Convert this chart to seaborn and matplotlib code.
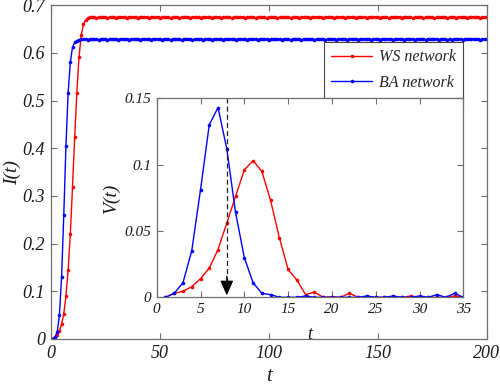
import numpy as np
import matplotlib
matplotlib.use('Agg')
import matplotlib.pyplot as plt
import matplotlib.ticker as mticker
import seaborn as sns

# I(t), t = 0..200
ws_rise = [0, 0.001, 0.004, 0.008, 0.017, 0.031, 0.053, 0.09, 0.145, 0.22,
           0.318, 0.423, 0.517, 0.592, 0.637, 0.66, 0.669, 0.673]
ws_plateau = [
    0.675, 0.676, 0.675, 0.674, 0.675, 0.676, 0.675, 0.675, 0.674, 0.675,
    0.676, 0.675, 0.674, 0.675, 0.675, 0.676, 0.675, 0.674, 0.675, 0.676,
    0.675, 0.675, 0.674, 0.675, 0.676, 0.675, 0.675, 0.674, 0.675, 0.675,
    0.676, 0.675, 0.674, 0.675, 0.675, 0.676, 0.675, 0.674, 0.675, 0.676,
    0.675, 0.674, 0.675, 0.675, 0.676, 0.675, 0.674, 0.675, 0.676, 0.675,
    0.675, 0.674, 0.675, 0.676, 0.675, 0.675, 0.674, 0.675, 0.676, 0.675,
    0.674, 0.675, 0.675, 0.676, 0.675, 0.674, 0.675, 0.675, 0.676, 0.675,
    0.675, 0.674, 0.675, 0.676, 0.675, 0.675, 0.674, 0.675, 0.675, 0.676,
    0.675, 0.674, 0.675, 0.676, 0.675, 0.675, 0.674, 0.675, 0.675, 0.676,
    0.675, 0.675, 0.674, 0.675, 0.676, 0.675, 0.674, 0.675, 0.675, 0.676,
    0.675, 0.674, 0.675, 0.675, 0.676, 0.675, 0.675, 0.674, 0.675, 0.676,
    0.675, 0.675, 0.674, 0.675, 0.675, 0.676, 0.675, 0.674, 0.675, 0.675,
    0.676, 0.675, 0.674, 0.675, 0.676, 0.675, 0.675, 0.674, 0.675, 0.675,
    0.676, 0.675, 0.675, 0.674, 0.675, 0.676, 0.675, 0.674, 0.675, 0.675,
    0.675, 0.676, 0.675, 0.674, 0.675, 0.675, 0.676, 0.675, 0.674, 0.675,
    0.676, 0.675, 0.675, 0.674, 0.675, 0.675, 0.676, 0.675, 0.674, 0.675,
    0.675, 0.676, 0.675, 0.675, 0.674, 0.675, 0.676, 0.675, 0.674, 0.675,
    0.675, 0.676, 0.675, 0.674, 0.675, 0.675, 0.676, 0.675, 0.675, 0.674,
    0.675, 0.676, 0.675]
ba_rise = [0, 0.001, 0.004, 0.015, 0.05, 0.13, 0.26, 0.405, 0.517, 0.58,
           0.612, 0.622, 0.626, 0.628]
ba_plateau = [
    0.629, 0.630, 0.629, 0.628, 0.629, 0.630, 0.629, 0.629, 0.628, 0.629,
    0.630, 0.629, 0.628, 0.629, 0.629, 0.630, 0.629, 0.628, 0.629, 0.630,
    0.629, 0.629, 0.628, 0.629, 0.630, 0.629, 0.629, 0.628, 0.629, 0.629,
    0.630, 0.629, 0.628, 0.629, 0.629, 0.630, 0.629, 0.628, 0.629, 0.630,
    0.629, 0.628, 0.629, 0.629, 0.630, 0.629, 0.628, 0.629, 0.630, 0.629,
    0.629, 0.628, 0.629, 0.630, 0.629, 0.629, 0.628, 0.629, 0.630, 0.629,
    0.628, 0.629, 0.629, 0.630, 0.629, 0.628, 0.629, 0.629, 0.630, 0.629,
    0.629, 0.628, 0.629, 0.630, 0.629, 0.629, 0.628, 0.629, 0.629, 0.630,
    0.629, 0.628, 0.629, 0.630, 0.629, 0.629, 0.628, 0.629, 0.629, 0.630,
    0.629, 0.629, 0.628, 0.629, 0.630, 0.629, 0.628, 0.629, 0.629, 0.630,
    0.629, 0.628, 0.629, 0.629, 0.630, 0.629, 0.629, 0.628, 0.629, 0.630,
    0.629, 0.629, 0.628, 0.629, 0.629, 0.630, 0.629, 0.628, 0.629, 0.629,
    0.630, 0.629, 0.628, 0.629, 0.630, 0.629, 0.629, 0.628, 0.629, 0.629,
    0.630, 0.629, 0.629, 0.628, 0.629, 0.630, 0.629, 0.628, 0.629, 0.629,
    0.629, 0.630, 0.629, 0.628, 0.629, 0.629, 0.630, 0.629, 0.628, 0.629,
    0.630, 0.629, 0.629, 0.628, 0.629, 0.629, 0.630, 0.629, 0.628, 0.629,
    0.629, 0.630, 0.629, 0.629, 0.628, 0.629, 0.630, 0.629, 0.628, 0.629,
    0.628, 0.629, 0.630, 0.629, 0.629, 0.628, 0.629, 0.630, 0.629, 0.629,
    0.629, 0.630, 0.629, 0.628, 0.629, 0.629, 0.630]
ws_I = ws_rise + ws_plateau
ba_I = ba_rise + ba_plateau

# V(t), t = 1..35 (inset)
t_inset = list(range(1, 36))
ws_V = [0, 0.003, 0.0045, 0.008, 0.014, 0.022, 0.036, 0.056, 0.076, 0.096,
        0.103, 0.095, 0.073, 0.045, 0.021, 0.013, 0.002, 0.004, 0, 0.0005,
        0, 0.003, 0, 0, 0, 0, 0, 0, 0.001, 0,
        0, 0, 0, 0.001, 0]
ba_V = [0, 0.003, 0.011, 0.035, 0.081, 0.13, 0.143, 0.112, 0.064, 0.030,
        0.011, 0.003, 0.002, 0, 0, 0, 0.001, 0, 0, 0,
        0, 0, 0, 0.001, 0, 0, 0.001, 0, 0, 0.001,
        0, 0.002, 0, 0.003, 0]
arrow_t = 8

sns.set_style('ticks')
plt.rcParams['font.family'] = 'serif'
plt.rcParams['font.serif'] = ['Liberation Serif', 'DejaVu Serif']
plt.rcParams['font.style'] = 'italic'

spine_col = '#6e6e6e'
text_col = '#1a1a1a'
red, blue = '#ff0000', '#0000ff'


def fmt(v, pos):
    s = ('%.2f' % v).rstrip('0').rstrip('.')
    return s


def style(ax, size):
    for sp in ax.spines.values():
        sp.set_color(spine_col)
        sp.set_linewidth(0.9)
    ax.tick_params(direction='in', top=True, right=True, length=4,
                   width=0.8, color=spine_col, labelsize=size,
                   labelcolor=text_col, pad=4)


fig = plt.figure(figsize=(5, 3.86), dpi=100)
ax = fig.add_axes([0.1014, 0.1218, 0.872, 0.8645])

line_kw = dict(marker='o', markersize=2.6, markeredgewidth=0, linewidth=1.0)
sns.lineplot(x=np.arange(len(ws_I)), y=ws_I, color=red, ax=ax,
             label='WS network', **line_kw)
sns.lineplot(x=np.arange(len(ba_I)), y=ba_I, color=blue, ax=ax,
             label='BA network', **line_kw)
ax.set_xlim(0, 200)
ax.set_ylim(0, 0.7)
ax.set_xticks([0, 50, 100, 150, 200])
ax.set_yticks(np.arange(0, 0.71, 0.1))
ax.yaxis.set_major_formatter(mticker.FuncFormatter(fmt))
style(ax, 13)
ax.set_xlabel('t', fontsize=15, color=text_col)
ax.set_ylabel('I(t)', fontsize=14, color=text_col)
ax.yaxis.set_label_coords(-0.068, 0.5)
ax.xaxis.set_label_coords(0.5, -0.085)

leg = ax.legend(loc='lower right', bbox_to_anchor=(0.9456, 0.722),
                borderaxespad=0, fontsize=11.5, fancybox=False, framealpha=1,
                edgecolor='#444444', handlelength=2.6, borderpad=0.45,
                labelspacing=0.6, handletextpad=0.4)
leg.get_frame().set_linewidth(0.8)

ins = fig.add_axes([0.3134, 0.2298, 0.6132, 0.5155])
ins.set_facecolor('white')
sns.lineplot(x=t_inset, y=ws_V, color=red, ax=ins, **line_kw)
sns.lineplot(x=t_inset, y=ba_V, color=blue, ax=ins, **line_kw)
ins.set_xlim(0, 35)
ins.set_ylim(0, 0.15)
ins.set_xticks(range(0, 36, 5))
ins.set_yticks([0, 0.05, 0.1, 0.15])
ins.yaxis.set_major_formatter(mticker.FuncFormatter(fmt))
style(ins, 11)
ins.set_xlabel('t', fontsize=13, color=text_col)
ins.set_ylabel('V(t)', fontsize=14, color=text_col)
ins.yaxis.set_label_coords(-0.12, 0.5)
ins.xaxis.set_label_coords(0.5, -0.145)

ins.plot([arrow_t, arrow_t], [0.15, 0.01], color='#222222',
         linestyle=(0, (4, 2.5)), linewidth=0.9)
ins.annotate('', xy=(arrow_t, 0.0015), xytext=(arrow_t, 0.016),
             arrowprops=dict(arrowstyle='-|>,head_length=0.9,head_width=0.4',
                             color='black', linewidth=0.9,
                             shrinkA=0, shrinkB=0))

fig.savefig('out.png', dpi=100)
